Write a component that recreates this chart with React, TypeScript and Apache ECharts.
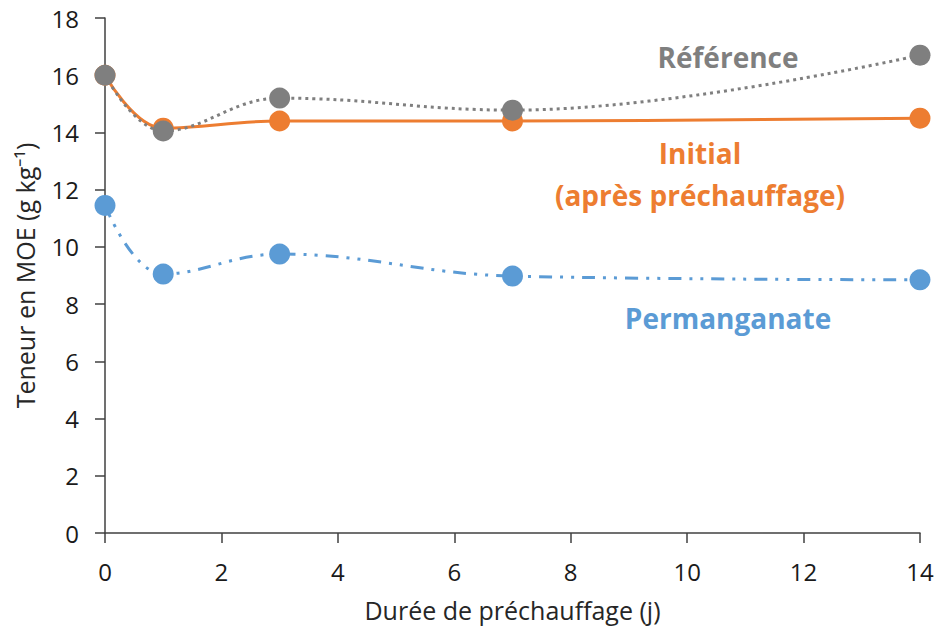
import React, { useEffect, useRef } from "react";
import * as echarts from "echarts";

const days = [0, 1, 3, 7, 14];
const reference = [16.0, 14.05, 15.2, 14.78, 16.7];
const initial = [16.0, 14.15, 14.4, 14.4, 14.5];
const permanganate = [11.45, 9.05, 9.75, 8.98, 8.85];
const xTicks = [0, 2, 4, 6, 8, 10, 12, 14];
const yTicks = [0, 2, 4, 6, 8, 10, 12, 14, 16, 18];

const GRAY = "#7f7f7f";
const ORANGE = "#ED7D31";
const BLUE = "#5B9BD5";
const FONT = "Open Sans";

const pairs = (ys: number[]) => days.map((d, i) => [d, ys[i]]);

export default function App() {
  const ref = useRef<HTMLDivElement>(null);
  useEffect(() => {
    if (!ref.current) return;
    const chart = echarts.init(ref.current, undefined, { renderer: "svg" });
    chart.setOption({
      animation: false,
      backgroundColor: "#ffffff",
      grid: { left: 105, right: 18, top: 18, bottom: 99 },
      xAxis: {
        type: "value",
        min: xTicks[0],
        max: xTicks[xTicks.length - 1],
        interval: 2,
        name: "Durée de préchauffage (j)",
        nameLocation: "middle",
        nameGap: 64,
        nameTextStyle: { fontFamily: FONT, fontSize: 25, color: "#262626" },
        axisLine: { show: true, lineStyle: { color: "#404040", width: 1.5 } },
        axisTick: { show: true, inside: false, length: 10, lineStyle: { color: "#404040", width: 1.5 } },
        axisLabel: { fontFamily: FONT, fontSize: 24, color: "#1a1a1a", margin: 26 },
        splitLine: { show: false },
      },
      yAxis: {
        type: "value",
        min: yTicks[0],
        max: yTicks[yTicks.length - 1],
        interval: 2,
        name: "Teneur en MOE (g kg⁻¹)",
        nameLocation: "middle",
        nameGap: 68,
        nameRotate: 90,
        nameTextStyle: { fontFamily: FONT, fontSize: 25, color: "#262626" },
        axisLine: { show: true, lineStyle: { color: "#404040", width: 1.5 } },
        axisTick: { show: true, inside: false, length: 10, lineStyle: { color: "#404040", width: 1.5 } },
        axisLabel: { fontFamily: FONT, fontSize: 24, color: "#1a1a1a", margin: 26 },
        splitLine: { show: false },
      },
      series: [
        {
          name: "Permanganate",
          type: "line",
          data: pairs(permanganate),
          smooth: 0.4,
          symbol: "circle",
          symbolSize: 21,
          itemStyle: { color: BLUE },
          lineStyle: { color: BLUE, width: 3, type: [13, 8, 3, 8, 3, 8] },
          z: 2,
        },
        {
          name: "Initial",
          type: "line",
          data: pairs(initial),
          smooth: 0.4,
          symbol: "circle",
          symbolSize: 21,
          itemStyle: { color: ORANGE },
          lineStyle: { color: ORANGE, width: 3, type: "solid" },
          z: 3,
        },
        {
          name: "Référence",
          type: "line",
          data: pairs(reference),
          smooth: 0.4,
          symbol: "circle",
          symbolSize: 21,
          itemStyle: { color: GRAY },
          lineStyle: { color: GRAY, width: 3, type: [3, 4] },
          z: 4,
        },
      ],
      graphic: [
        {
          type: "text",
          x: 728,
          y: 57,
          style: {
            text: "Référence",
            fill: GRAY,
            font: `bold 28px "${FONT}"`,
            align: "center",
            verticalAlign: "middle",
          },
        },
        {
          type: "text",
          x: 700,
          y: 174,
          style: {
            text: "Initial\n(après préchauffage)",
            fill: ORANGE,
            font: `bold 28px "${FONT}"`,
            lineHeight: 42,
            align: "center",
            verticalAlign: "middle",
          },
        },
        {
          type: "text",
          x: 728,
          y: 318,
          style: {
            text: "Permanganate",
            fill: BLUE,
            font: `bold 28px "${FONT}"`,
            align: "center",
            verticalAlign: "middle",
          },
        },
      ],
    });
    return () => chart.dispose();
  }, []);
  return <div ref={ref} style={{ width: 938, height: 632, position: "absolute", left: 0, top: 0 }} />;
}
